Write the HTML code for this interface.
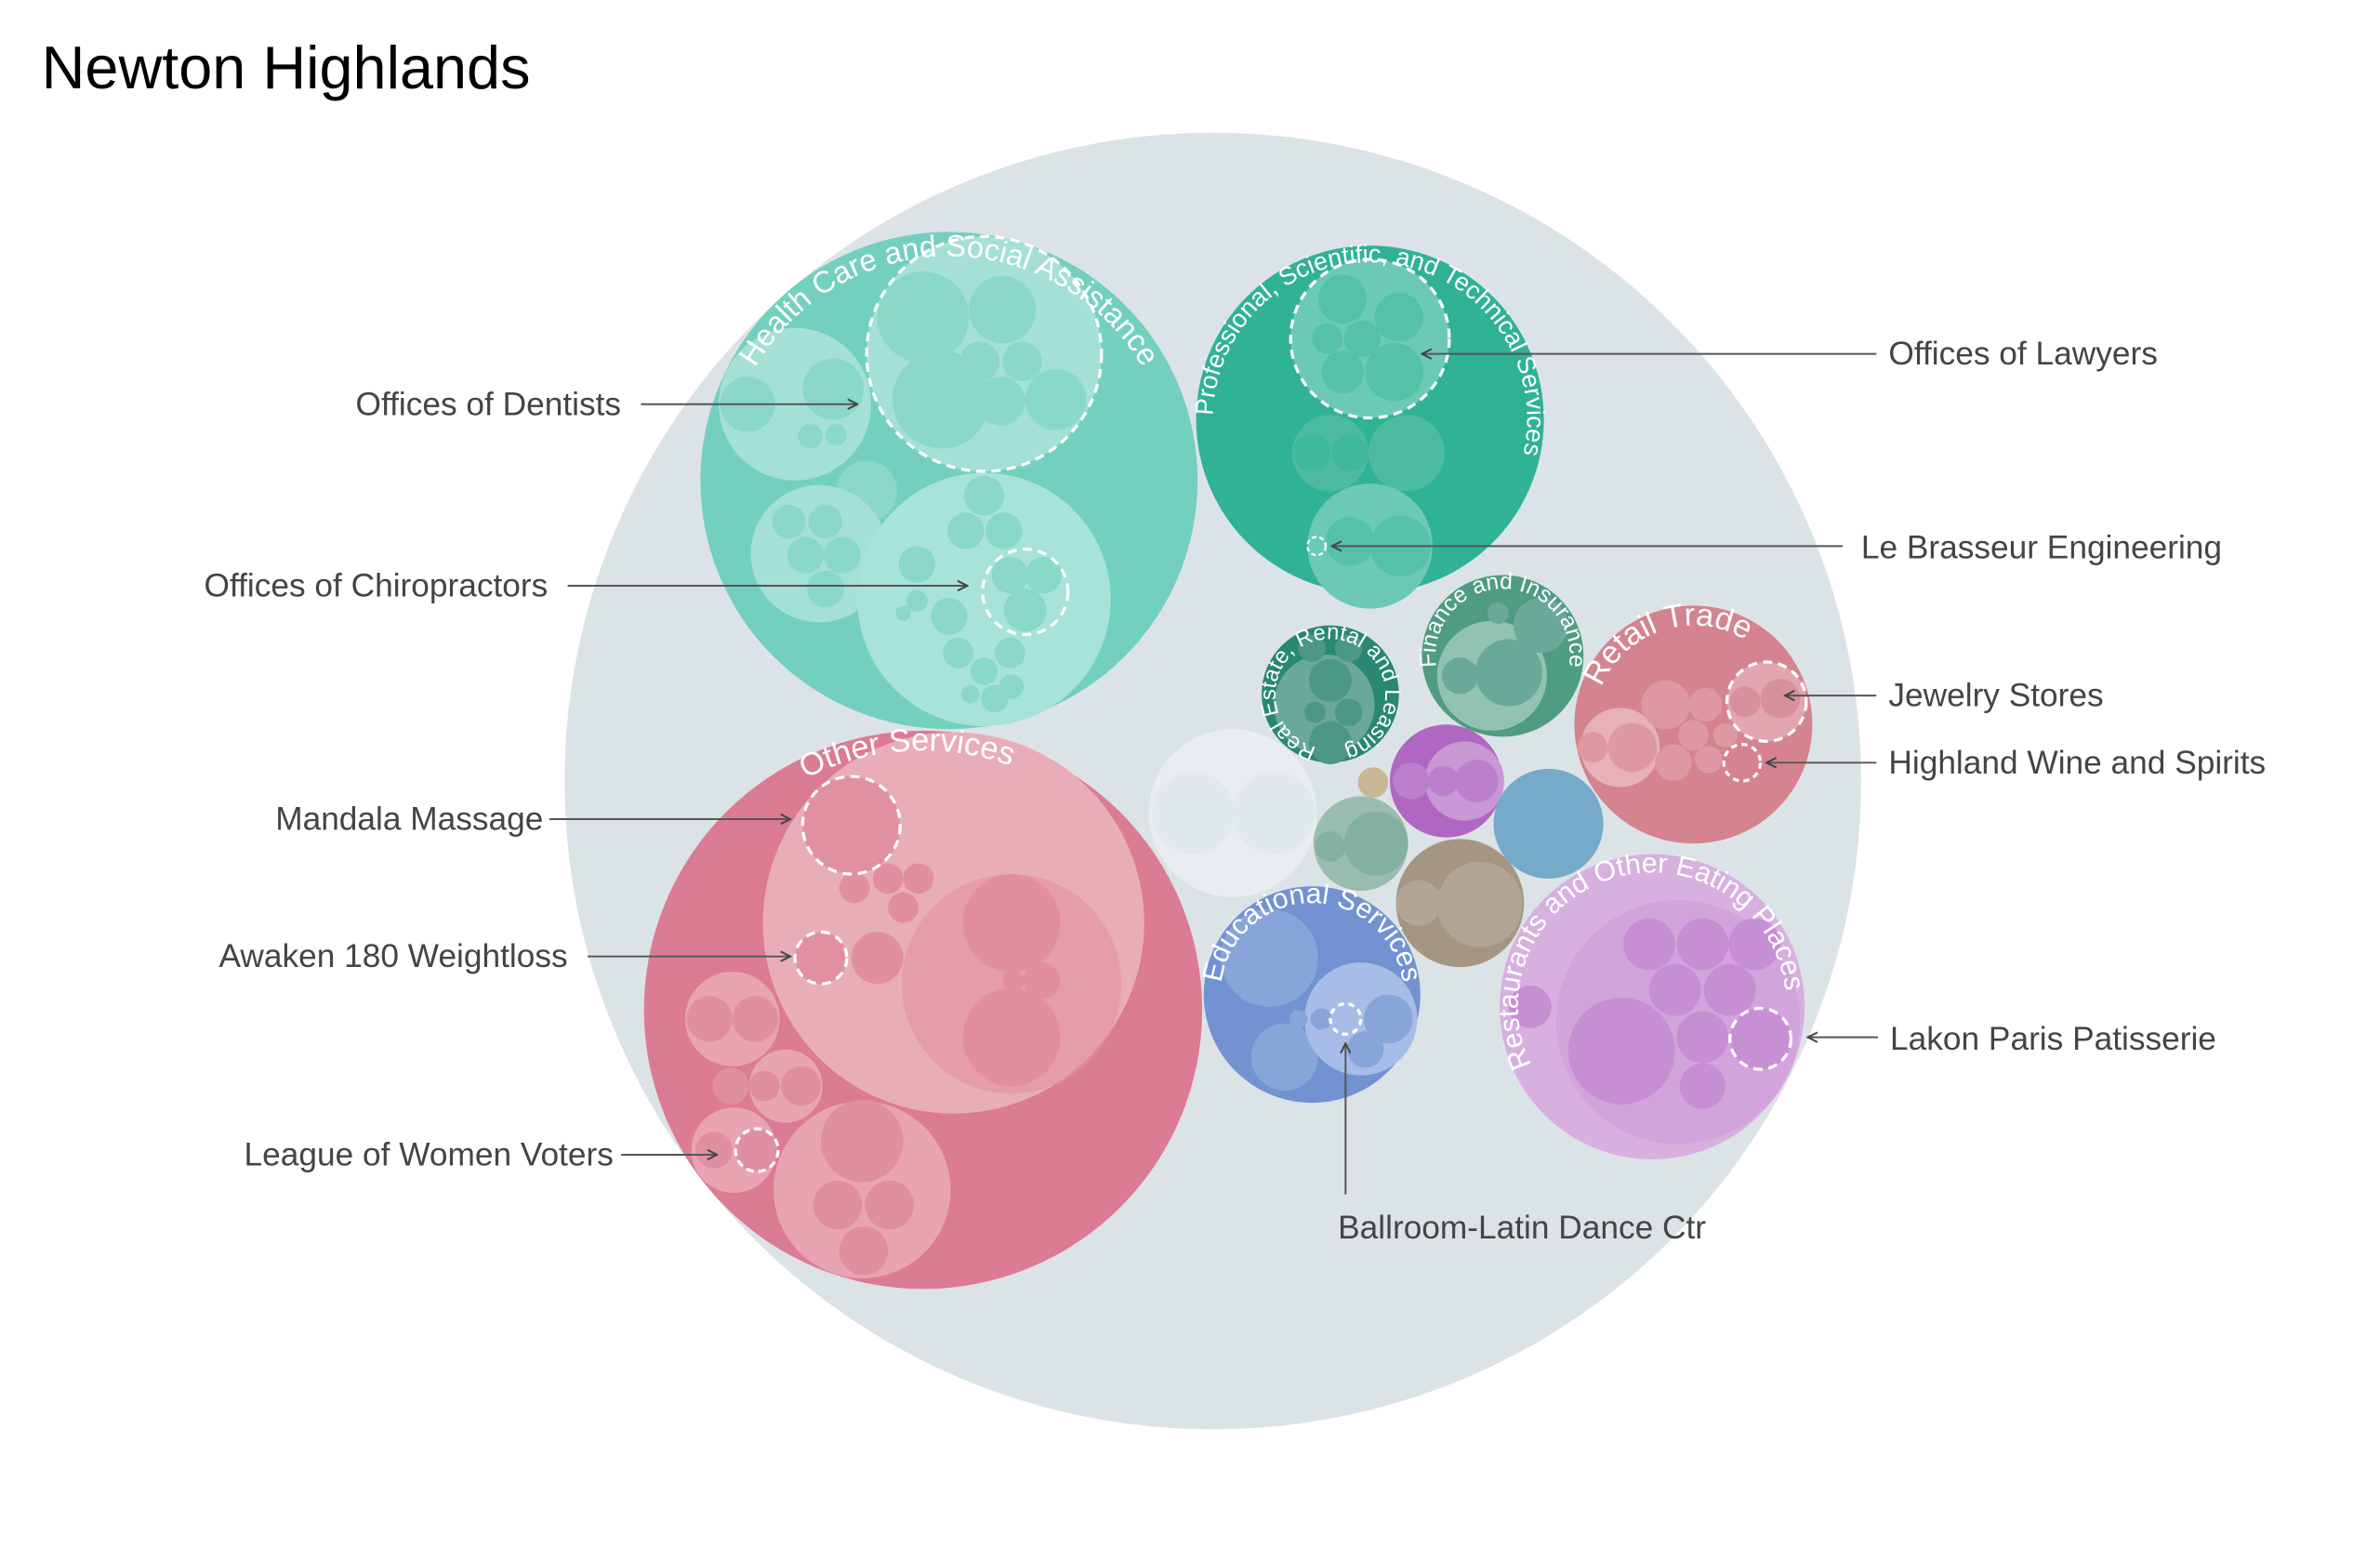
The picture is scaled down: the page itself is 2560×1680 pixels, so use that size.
<!DOCTYPE html>
<html><head><meta charset="utf-8"><style>
html,body{margin:0;padding:0;background:#fff;}
svg{display:block;}
text{font-family:"Liberation Sans",sans-serif;}
.lbl{font-size:21.5px;fill:#444;}
.arc{fill:#fff;}
.ln{stroke:#555;stroke-width:1.2;fill:none;}
.d{fill:none;stroke:#fff;stroke-width:2;stroke-dasharray:6 4;}
</style></head><body>
<svg width="2560" height="1680" viewBox="0 0 1560 1024" xmlns="http://www.w3.org/2000/svg">
<defs>
<marker id="ar" viewBox="0 0 10 10" refX="9" refY="5" markerWidth="8" markerHeight="8" orient="auto-start-reverse" markerUnits="userSpaceOnUse">
<polyline points="1,1 9,5 1,9" fill="none" stroke="#444" stroke-width="1.5"/></marker>
<path id="pHC" d="M622,462 A147,147 0 1 1 622,168 A147,147 0 1 1 622,462"/>
<path id="pPR" d="M898,378 A103,103 0 1 1 898,172 A103,103 0 1 1 898,378"/>
<path id="pRE" d="M872,491 A36,36 0 1 1 872,419 A36,36 0 1 1 872,491"/>
<path id="pFI" d="M985,474 A44,44 0 1 1 985,386 A44,44 0 1 1 985,474"/>
<path id="pRT" d="M1110,540 A65,65 0 1 1 1110,410 A65,65 0 1 1 1110,540"/>
<path id="pOS" d="M605,832 A170,170 0 1 1 605,492 A170,170 0 1 1 605,832"/>
<path id="pED" d="M860,712 A60,60 0 1 1 860,592 A60,60 0 1 1 860,712"/>
<path id="pRS" d="M1083,748 A88,88 0 1 1 1083,572 A88,88 0 1 1 1083,748"/>
</defs>
<rect width="1560" height="1024" fill="#fff"/>
<text x="27" y="58" style="font-size:39.5px;fill:#000">Newton Highlands</text>
<circle cx="795" cy="512" r="425" fill="#dce3e7"/>

<!-- Health care -->
<circle cx="622" cy="315" r="163" fill="#74d0be"/>
<circle cx="645" cy="232" r="77" fill="#a4e0d4"/>
<g fill="#89d8c8"><circle cx="605" cy="208" r="30"/><circle cx="657" cy="203" r="22"/><circle cx="617" cy="262" r="32"/><circle cx="656" cy="263" r="16"/><circle cx="692" cy="262" r="20"/><circle cx="642" cy="237" r="13"/><circle cx="670" cy="237" r="13"/></g>
<circle cx="645" cy="232" r="77" class="d"/>
<circle cx="521" cy="265" r="50" fill="#a4e0d4"/>
<g fill="#89d8c8"><circle cx="490" cy="265" r="18"/><circle cx="546" cy="255" r="20"/><circle cx="531" cy="286" r="8"/><circle cx="548" cy="285" r="7"/><circle cx="568" cy="322" r="20"/><circle cx="538" cy="340" r="6"/></g>
<circle cx="537" cy="363" r="45" fill="#a4e0d4"/>
<g fill="#89d8c8"><circle cx="517" cy="342" r="11"/><circle cx="541" cy="342" r="11"/><circle cx="528" cy="364" r="12"/><circle cx="552" cy="364" r="12"/><circle cx="541" cy="386" r="12"/></g>
<circle cx="645" cy="393" r="83" fill="#a8e3d8"/>
<g fill="#89d8c8"><circle cx="645" cy="325" r="13"/><circle cx="633" cy="348" r="12"/><circle cx="658" cy="348" r="12"/><circle cx="601" cy="370" r="12"/><circle cx="622" cy="404" r="12"/><circle cx="601" cy="394" r="7"/><circle cx="592" cy="402" r="5"/><circle cx="628" cy="428" r="10"/><circle cx="662" cy="428" r="10"/><circle cx="645" cy="440" r="9"/><circle cx="652" cy="458" r="9"/><circle cx="636" cy="455" r="6"/><circle cx="663" cy="450" r="8"/><circle cx="662" cy="377" r="12"/><circle cx="684" cy="377" r="12"/><circle cx="672" cy="400" r="14"/></g>
<circle cx="672" cy="388" r="28" class="d"/>
<text class="arc" style="font-size:20px"><textPath href="#pHC" startOffset="50%" text-anchor="middle">Health Care and Social Assistance</textPath></text>

<!-- Professional -->
<circle cx="898" cy="275" r="114" fill="#30b295"/>
<circle cx="898" cy="222" r="52" fill="#6ccab4"/>
<g fill="#55c1a8"><circle cx="880" cy="196" r="16"/><circle cx="870" cy="222" r="10"/><circle cx="893" cy="222" r="12"/><circle cx="880" cy="244" r="14"/><circle cx="914" cy="244" r="19"/><circle cx="917" cy="208" r="16"/></g>
<circle cx="898" cy="222" r="52" class="d"/>
<g fill="#4dbb9f"><circle cx="872" cy="297" r="25"/><circle cx="922" cy="297" r="25"/></g>
<g fill="#3fb89b"><circle cx="860" cy="297" r="12"/><circle cx="885" cy="297" r="12"/></g>
<circle cx="898" cy="358" r="41" fill="#6ccab4"/>
<g fill="#55c1a8"><circle cx="885" cy="355" r="16"/><circle cx="918" cy="358" r="20"/></g>
<circle cx="863" cy="358" r="6" class="d" style="stroke-dasharray:3 2;stroke-width:1.5"/>
<text class="arc" style="font-size:16.5px"><textPath href="#pPR" startOffset="52%" text-anchor="middle">Professional, Scientific, and Technical Services</textPath></text>

<!-- Real estate -->
<circle cx="872" cy="455" r="45" fill="#288870"/>
<circle cx="868" cy="462" r="33" fill="#6aa897"/>
<g fill="#4b9885"><circle cx="872" cy="446" r="14"/><circle cx="872" cy="487" r="14"/><circle cx="862" cy="467" r="7"/><circle cx="884" cy="467" r="9"/><circle cx="860" cy="425" r="9"/><circle cx="884" cy="425" r="9"/></g>
<text class="arc" style="font-size:14.5px"><textPath href="#pRE" startOffset="50%" text-anchor="middle">Real Estate, Rental and Leasing</textPath></text>

<!-- Finance -->
<circle cx="985" cy="430" r="53" fill="#4e9c82"/>
<circle cx="978" cy="443" r="36" fill="#92c2b2"/>
<g fill="#6aa999"><circle cx="989" cy="441" r="22"/><circle cx="957" cy="443" r="12"/><circle cx="1010" cy="410" r="18"/><circle cx="982" cy="402" r="7"/></g>
<text class="arc" style="font-size:15px"><textPath href="#pFI" startOffset="50%" text-anchor="middle">Finance and Insurance</textPath></text>

<!-- Retail -->
<circle cx="1110" cy="475" r="78" fill="#d4838f"/>
<circle cx="1062" cy="490" r="26" fill="#e6b1b9"/>
<g fill="#dd98a4"><circle cx="1044" cy="490" r="10"/><circle cx="1070" cy="490" r="16"/><circle cx="1092" cy="462" r="16"/><circle cx="1118" cy="462" r="11"/><circle cx="1110" cy="482" r="10"/><circle cx="1097" cy="500" r="12"/><circle cx="1120" cy="498" r="9"/><circle cx="1131" cy="482" r="8"/></g>
<circle cx="1158" cy="460" r="26" fill="#e3a6b0"/>
<g fill="#d8909c"><circle cx="1144" cy="460" r="10"/><circle cx="1167" cy="458" r="13"/></g>
<circle cx="1158" cy="460" r="26" class="d"/>
<circle cx="1142" cy="500" r="12" class="d" style="stroke-dasharray:4 3"/>
<text class="arc" style="font-size:21px"><textPath href="#pRT" startOffset="45%" text-anchor="middle">Retail Trade</textPath></text>

<!-- small middle -->
<circle cx="808" cy="533" r="55" fill="#e8eef0"/>
<g fill="#e2e9ec"><circle cx="782" cy="533" r="27"/><circle cx="835" cy="533" r="27"/></g>
<circle cx="900" cy="513" r="10" fill="#c9b893"/>
<circle cx="948" cy="512" r="37" fill="#b067c2"/>
<circle cx="960" cy="512" r="26" fill="#c798d3"/>
<g fill="#bb7fcc"><circle cx="925" cy="512" r="12"/><circle cx="946" cy="512" r="10"/><circle cx="968" cy="512" r="14"/></g>
<circle cx="1015" cy="540" r="36" fill="#75abc8"/>
<circle cx="892" cy="553" r="31" fill="#98bdb0"/>
<g fill="#83b0a2"><circle cx="872" cy="555" r="10"/><circle cx="902" cy="553" r="21"/></g>
<circle cx="957" cy="592" r="42" fill="#a59583"/>
<g fill="#b2a596"><circle cx="970" cy="593" r="28"/><circle cx="930" cy="592" r="15"/></g>

<!-- Educational -->
<circle cx="860" cy="652" r="71" fill="#7292d2"/>
<g fill="#88a5da"><circle cx="832" cy="628" r="32"/><circle cx="842" cy="693" r="22"/></g>
<circle cx="892" cy="668" r="37" fill="#a7bde7"/>
<g fill="#88a5da"><circle cx="910" cy="668" r="16"/><circle cx="895" cy="688" r="12"/><circle cx="866" cy="668" r="7"/><circle cx="851" cy="668" r="6"/></g>
<circle cx="882" cy="668" r="10" class="d" style="stroke-dasharray:4 3"/>
<text class="arc" style="font-size:18.5px"><textPath href="#pED" startOffset="50%" text-anchor="middle">Educational Services</textPath></text>

<!-- Restaurants -->
<circle cx="1083" cy="660" r="100" fill="#d8b0e0"/>
<circle cx="1100" cy="670" r="80" fill="#d2a4dc"/>
<g fill="#c78fd3"><circle cx="1081" cy="619" r="17"/><circle cx="1116" cy="619" r="17"/><circle cx="1150" cy="619" r="17"/><circle cx="1098" cy="649" r="17"/><circle cx="1134" cy="649" r="17"/><circle cx="1116" cy="680" r="17"/><circle cx="1063" cy="689" r="35"/><circle cx="1003" cy="660" r="14"/><circle cx="1116" cy="712" r="15"/></g>
<circle cx="1154" cy="681" r="20" fill="#c890d4"/>
<circle cx="1154" cy="681" r="20" class="d"/>
<text class="arc" style="font-size:18.5px"><textPath href="#pRS" startOffset="45.5%" text-anchor="middle">Restaurants and Other Eating Places</textPath></text>

<!-- Other services -->
<circle cx="605" cy="662" r="183" fill="#dc7b94"/>
<circle cx="625" cy="605" r="125" fill="#e8adb9"/>
<circle cx="663" cy="645" r="72" fill="#e2929f" opacity=".6"/>
<g fill="#e18ea0"><circle cx="663" cy="605" r="32"/><circle cx="663" cy="680" r="32"/><circle cx="664" cy="643" r="7"/><circle cx="683" cy="643" r="12"/><circle cx="560" cy="582" r="10"/><circle cx="582" cy="576" r="10"/><circle cx="602" cy="576" r="10"/><circle cx="592" cy="595" r="10"/><circle cx="575" cy="628" r="17"/></g>
<circle cx="558" cy="541" r="32" fill="#e1909f"/>
<circle cx="558" cy="541" r="32" class="d"/>
<circle cx="538" cy="628" r="17" fill="#e1909f"/>
<circle cx="538" cy="628" r="17" class="d"/>
<circle cx="480" cy="668" r="31" fill="#e8a4b3"/>
<g fill="#df8fa1"><circle cx="465" cy="668" r="15"/><circle cx="495" cy="668" r="15"/></g>
<circle cx="515" cy="712" r="24" fill="#e8a4b3"/>
<g fill="#df8fa1"><circle cx="479" cy="712" r="12"/><circle cx="501" cy="712" r="10"/><circle cx="525" cy="712" r="13"/></g>
<circle cx="481" cy="754" r="28" fill="#e8a4b3"/>
<circle cx="468" cy="754" r="12" fill="#df8fa1"/>
<circle cx="496" cy="754" r="14" fill="#df8fa1"/>
<circle cx="496" cy="754" r="14" class="d" style="stroke-dasharray:5 3"/>
<circle cx="565" cy="780" r="58" fill="#e8a4b3"/>
<g fill="#df8fa1"><circle cx="565" cy="748" r="27"/><circle cx="549" cy="790" r="16"/><circle cx="583" cy="790" r="16"/><circle cx="566" cy="820" r="16"/></g>
<text class="arc" style="font-size:21px"><textPath href="#pOS" startOffset="49%" text-anchor="middle">Other Services</textPath></text>

<!-- labels -->
<g class="lbl">
<text x="407" y="272" text-anchor="end">Offices of Dentists</text>
<text x="359" y="391" text-anchor="end">Offices of Chiropractors</text>
<text x="356" y="544" text-anchor="end">Mandala Massage</text>
<text x="372" y="634" text-anchor="end">Awaken 180 Weightloss</text>
<text x="402" y="764" text-anchor="end">League of Women Voters</text>
<text x="1238" y="239">Offices of Lawyers</text>
<text x="1220" y="366">Le Brasseur Engineering</text>
<text x="1238" y="463">Jewelry Stores</text>
<text x="1238" y="507">Highland Wine and Spirits</text>
<text x="1239" y="688">Lakon Paris Patisserie</text>
<text x="877" y="812">Ballroom-Latin Dance Ctr</text>
</g>
<g class="ln" marker-end="url(#ar)">
<line x1="420" y1="265" x2="562" y2="265"/>
<line x1="372" y1="384" x2="634" y2="384"/>
<line x1="360" y1="537" x2="518" y2="537"/>
<line x1="385" y1="627" x2="518" y2="627"/>
<line x1="407" y1="757" x2="470" y2="757"/>
<line x1="1230" y1="232" x2="932" y2="232"/>
<line x1="1208" y1="358" x2="873" y2="358"/>
<line x1="1230" y1="456" x2="1170" y2="456"/>
<line x1="1230" y1="500" x2="1158" y2="500"/>
<line x1="1231" y1="680" x2="1185" y2="680"/>
<line x1="882" y1="783" x2="882" y2="684"/>
</g>
</svg>
</body></html>
